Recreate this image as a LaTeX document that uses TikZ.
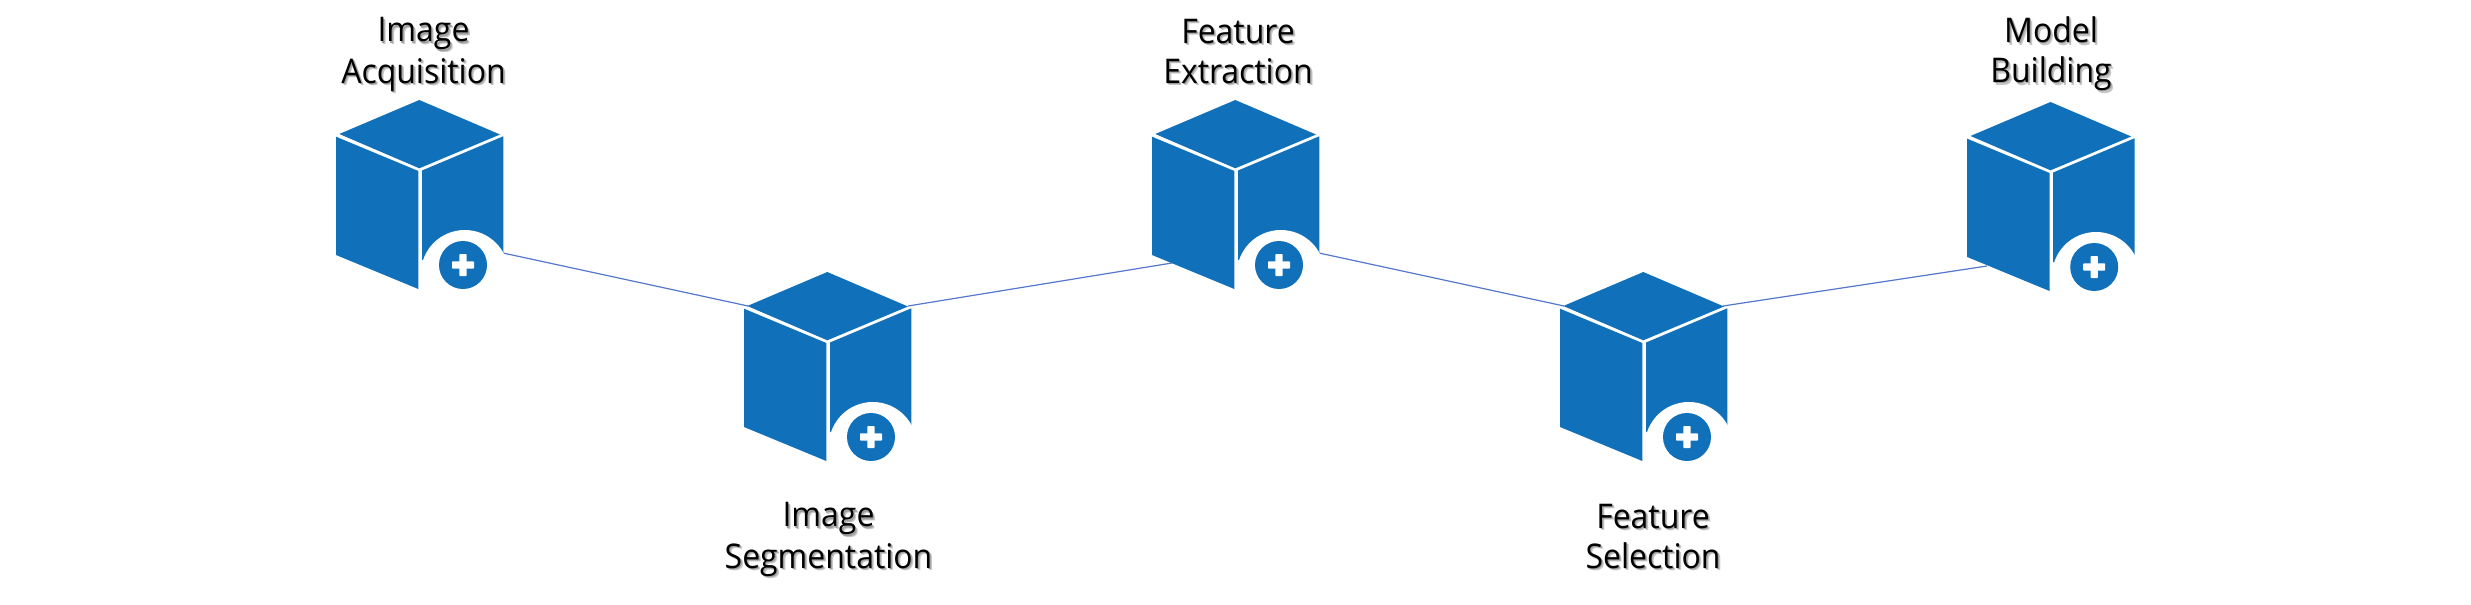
\documentclass[tikz,border=0pt]{standalone}
\usepackage{fontspec}
\setmainfont[FakeStretch=0.94]{Open Sans}
\definecolor{cubeblue}{HTML}{1170BA}
\definecolor{linkblue}{HTML}{5578CC}
\newcommand{\shadowed}[1]{\leavevmode\rule[-10pt]{0pt}{40pt}\rlap{\kern2.4pt\raisebox{-2.4pt}{\textcolor{black!22}{#1}}}\rlap{\kern1.2pt\raisebox{-1.2pt}{\textcolor{black!38}{#1}}}\textcolor{black}{#1}}
\newcommand{\cubeicon}[2]{%
  \begin{scope}[shift={(#1,#2)}]
    \fill[cubefill] (83.8,0) -- (164.5,34.5) -- (83.8,68.3) -- (3.8,34) -- cycle;
    \fill[cubefill] (0.5,36.7) -- (82.8,71) -- (82.8,189) -- (0.5,155) -- cycle;
    \fill[cubefill] (86.5,70.5) -- (167.8,36.3) -- (167.8,160) -- (86.5,160) -- cycle;
    \fill[white] (129.3,174) circle[radius=44];
    \fill[cubefill] (127.5,165) circle[radius=24];
    \fill[white,rounded corners=0.8pt] (123.8,154) rectangle (131.2,176);
    \fill[white,rounded corners=0.8pt] (116.5,161.3) rectangle (138.5,168.7);
  \end{scope}}
\tikzset{
  cubefill/.style={fill=cubeblue},
  link/.style={draw=linkblue,line width=1.2pt},
  caption/.style={font=\fontsize{34}{40}\selectfont,align=center,inner sep=0pt}
}
\begin{document}
\begin{tikzpicture}[x=1pt,y=-1pt]
\useasboundingbox (0,0) rectangle (2471,605);
\coordinate (a) at (503,253);
\coordinate (b1) at (748,306);
\coordinate (b2) at (908,306);
\coordinate (c1) at (1172,263);
\coordinate (c2) at (1319,253);
\coordinate (d1) at (1564,306);
\coordinate (d2) at (1723,306);
\coordinate (e1) at (1987,266);
\draw[link] (a) -- (b1);
\draw[link] (b2) -- (c1);
\draw[link] (c2) -- (d1);
\draw[link] (d2) -- (e1);
\cubeicon{335.5}{100}
\cubeicon{743.5}{272}
\cubeicon{1151.5}{100}
\cubeicon{1559.5}{272}
\cubeicon{1966.7}{102}
\node[caption] (ta) at (423.5,53) {\shadowed{Image}\\\shadowed{Acquisition}};
\node[caption] (tb) at (828.5,538) {\shadowed{Image}\\\shadowed{Segmentation}};
\node[caption] (tc) at (1238,53) {\shadowed{Feature}\\\shadowed{Extraction}};
\node[caption] (td) at (1653,538) {\shadowed{Feature}\\\shadowed{Selection}};
\node[caption] (te) at (2051,53) {\shadowed{Model}\\\shadowed{Building}};
\end{tikzpicture}
\end{document}
